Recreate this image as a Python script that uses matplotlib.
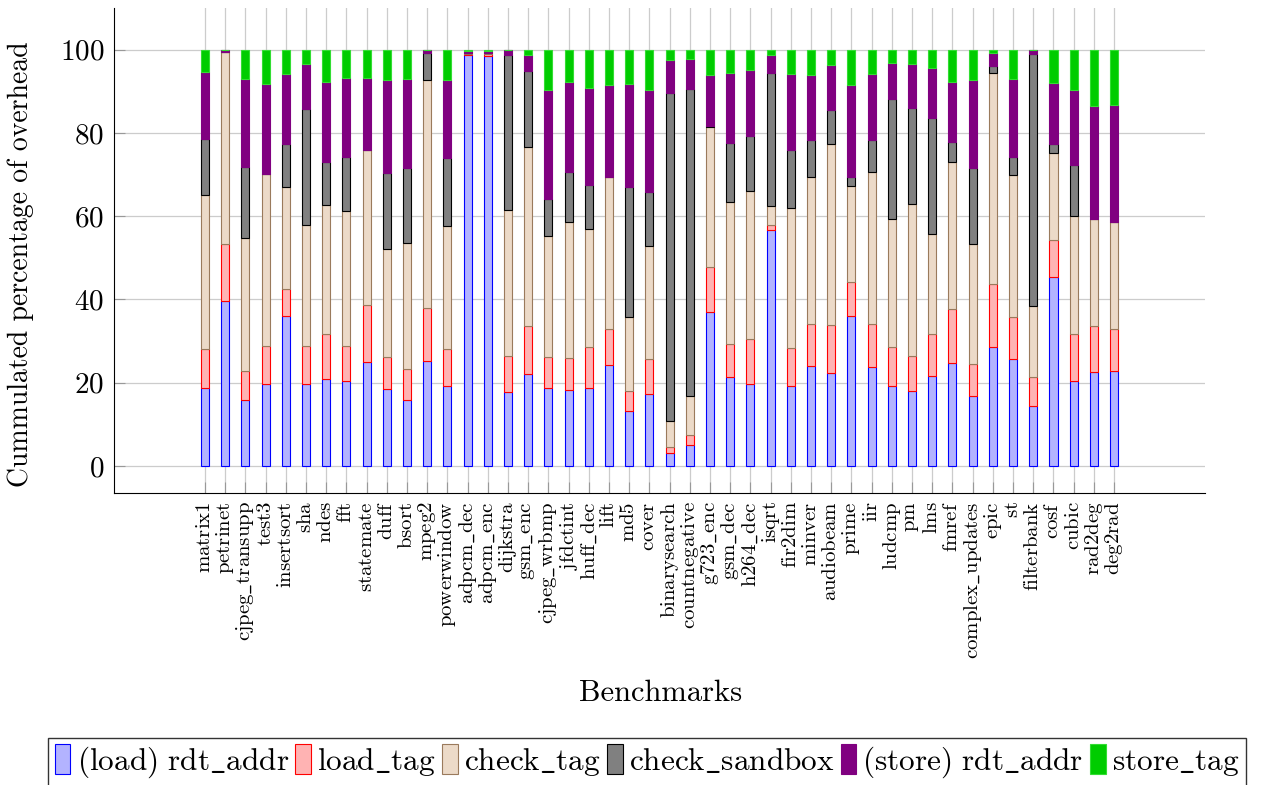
import numpy as np
import matplotlib
matplotlib.use('Agg')
import matplotlib.pyplot as plt

plt.rcParams['font.family'] = ['cmr10', 'DejaVu Serif']
plt.rcParams['mathtext.fontset'] = 'cm'
plt.rcParams['axes.formatter.use_mathtext'] = True

benchmarks = ['matrix1', 'petrinet', 'cjpeg_transupp', 'test3', 'insertsort', 'sha', 'ndes', 'fft',
              'statemate', 'duff', 'bsort', 'mpeg2', 'powerwindow', 'adpcm_dec', 'adpcm_enc',
              'dijkstra', 'gsm_enc', 'cjpeg_wrbmp', 'jfdctint', 'huff_dec', 'lift', 'md5', 'cover',
              'binarysearch', 'countnegative', 'g723_enc', 'gsm_dec', 'h264_dec', 'isqrt', 'fir2dim',
              'minver', 'audiobeam', 'prime', 'iir', 'ludcmp', 'pm', 'lms', 'fmref',
              'complex_updates', 'epic', 'st', 'filterbank', 'cosf', 'cubic', 'rad2deg', 'deg2rad']

# cumulated percentage at the top of each segment
load_rdt_top = [18.7, 39.5, 15.8, 19.7, 36.1, 19.7, 20.8, 20.5, 24.9, 18.5, 15.9, 25.2, 19.3, 98.6, 98.5,
                17.7, 22.2, 18.8, 18.2, 18.7, 24.2, 13.2, 17.2, 3.0, 5.0, 36.9, 21.3, 19.6, 56.6, 19.1,
                23.9, 22.4, 35.9, 23.7, 19.1, 18.0, 21.7, 24.8, 16.8, 28.5, 25.6, 14.4, 45.3, 20.4, 22.6, 22.8]
load_tag_top = [28.2, 53.3, 22.9, 28.9, 42.6, 28.8, 31.7, 28.9, 38.6, 26.1, 23.4, 37.9, 28.1, 98.9, 98.9,
                26.4, 33.6, 26.2, 26.0, 28.6, 32.9, 18.0, 25.7, 4.6, 7.5, 47.8, 29.2, 30.6, 57.9, 28.3,
                34.1, 33.9, 44.2, 34.1, 28.5, 26.5, 31.6, 37.7, 24.6, 43.8, 35.7, 21.3, 54.2, 31.8, 33.5, 33.0]
check_tag_top = [65.1, 99.4, 54.8, 70.2, 67.1, 57.8, 62.7, 61.3, 75.9, 52.0, 53.6, 92.6, 57.6, 99.1, 99.1,
                 61.4, 76.7, 55.3, 58.6, 56.8, 69.3, 35.7, 52.8, 10.8, 16.9, 81.5, 63.5, 66.0, 62.4, 61.9,
                 69.4, 77.3, 67.2, 70.7, 59.4, 63.0, 55.8, 73.0, 53.2, 94.4, 69.9, 38.3, 75.2, 60.0, 59.4, 58.6]
sandbox_top = [78.5, 99.4, 71.9, 70.2, 77.3, 85.8, 73.1, 74.3, 75.9, 70.3, 71.5, 99.1, 74.0, 99.1, 99.1,
               98.6, 94.9, 64.2, 70.7, 67.5, 69.3, 67.1, 65.7, 89.5, 90.6, 81.7, 77.5, 79.2, 94.4, 75.9,
               78.3, 85.5, 69.4, 78.2, 88.2, 86.0, 83.6, 77.9, 71.5, 96.1, 74.3, 99.0, 77.4, 72.3, 59.4, 58.6]
store_rdt_top = [94.7, 99.8, 93.0, 91.7, 94.2, 96.5, 92.2, 93.2, 93.3, 92.6, 93.0, 99.8, 92.7, 99.7, 99.7,
                 99.8, 98.8, 90.4, 92.3, 90.9, 91.4, 91.7, 90.2, 97.4, 97.8, 93.8, 94.5, 95.0, 98.8, 94.1,
                 93.8, 96.4, 91.4, 94.2, 96.9, 96.6, 95.7, 92.2, 92.8, 99.1, 93.0, 99.8, 91.9, 90.2, 86.4, 86.6]
store_tag_top = [100.0] * len(benchmarks)

labels = ['(load) rdt_addr', 'load_tag', 'check_tag', 'check_sandbox', '(store) rdt_addr', 'store_tag']
fills = ['#b3b3ff', '#ffb3b3', '#ecdac8', '#808080', '#800080', '#00cc00']
edges = ['#0000ff', '#ff0000', '#9a7a5c', '#000000', '#800080', '#33dd33']


def tex(s):
    # cmr10 has no plain underscore glyph, so go through mathtext
    return r'$\mathrm{' + s.replace('_', r'\_').replace(' ', r'\ ') + '}$'


tops = np.array([load_rdt_top, load_tag_top, check_tag_top, sandbox_top, store_rdt_top, store_tag_top])
bottoms = np.vstack([np.zeros(len(benchmarks)), tops[:-1]])
x = np.arange(len(benchmarks))

fig = plt.figure(figsize=(12.8, 7.85), dpi=100)
ax = fig.add_axes([0.0891, 0.372, 0.8523, 0.6178])

for i in range(len(labels)):
    ax.bar(x, tops[i] - bottoms[i], 0.4, bottom=bottoms[i], color=fills[i],
           edgecolor=edges[i], linewidth=0.8, label=tex(labels[i]), zorder=3)

ax.set_xlim(-4.5, 49.5)
ax.set_ylim(-6.5, 110)
ax.set_yticks([0, 20, 40, 60, 80, 100])
ax.set_xticks(x)
ax.set_xticklabels([tex(b) for b in benchmarks], rotation=90, fontsize=15)
ax.tick_params(axis='y', labelsize=21, direction='in', length=8, color='#999999', pad=7)
ax.tick_params(axis='x', direction='in', length=8, color='#999999', pad=6)
ax.grid(True, color='#cccccc', linewidth=0.9, zorder=0)
ax.spines['top'].set_visible(False)
ax.spines['right'].set_visible(False)

ax.set_xlabel('Benchmarks', fontsize=22)
ax.xaxis.set_label_coords(0.5005, -0.385)
ax.set_ylabel('Cummulated percentage of overhead', fontsize=20)
ax.yaxis.set_label_coords(-0.0733, 0.472)

fig.legend(loc='upper center', bbox_to_anchor=(0.5055, 1 - 738 / 785), ncol=6, fontsize=22.5,
           frameon=True, fancybox=False, edgecolor='#333333', framealpha=1,
           handlelength=0.5, handleheight=1.1, handletextpad=0.2, columnspacing=0.2,
           borderpad=0.2, borderaxespad=0)

fig.savefig('out.png', dpi=100)
